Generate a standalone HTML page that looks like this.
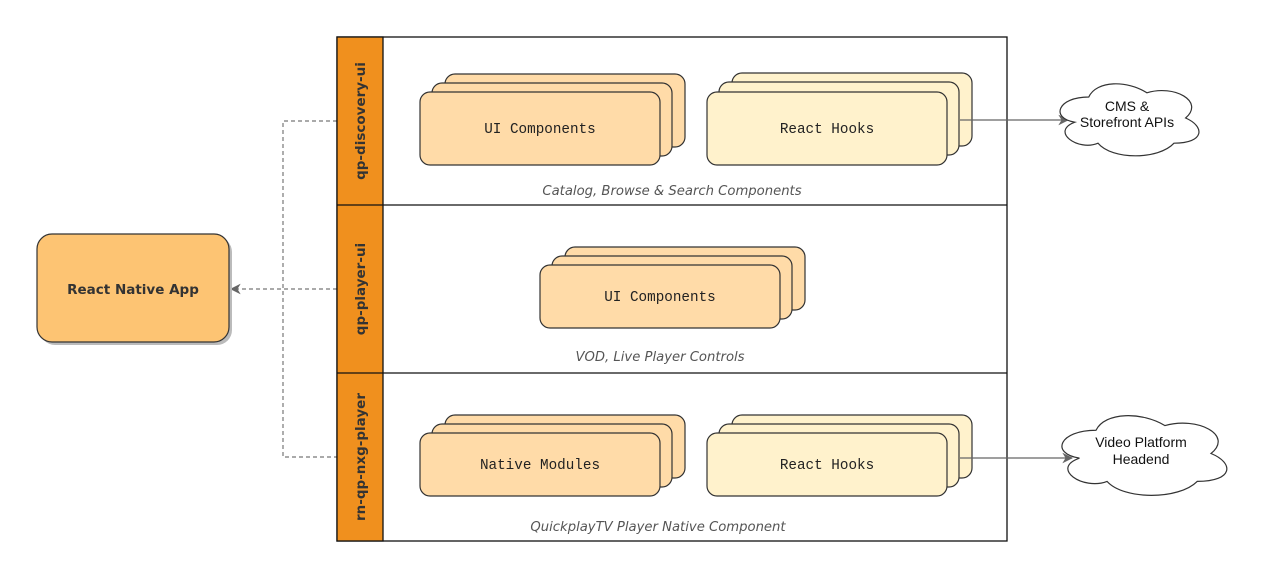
<!DOCTYPE html>
<html><head><meta charset="utf-8"><style>
body{margin:0;background:#fff;}
svg{display:block}
.m{font-family:"Liberation Mono",monospace;font-size:14.3px;fill:#222;}
.i{font-family:"DejaVu Sans","Liberation Sans",sans-serif;font-style:italic;font-size:13.2px;fill:#555;}
.s{font-family:"Liberation Sans",sans-serif;font-size:14px;fill:#111;}
.lb{font-family:"DejaVu Sans","Liberation Sans",sans-serif;font-weight:bold;font-size:13.5px;fill:#333;}
</style></head><body>
<svg width="1277" height="581" viewBox="0 0 1277 581">
<defs>
<marker id="a" viewBox="0 0 10 10" refX="9" refY="5" markerWidth="9" markerHeight="9" orient="auto"><path d="M0,0 L10,5 L0,10 L3,5 Z" fill="#666"/></marker>
<g id="cl"><path d="M0.25,0.25 C0.05,0.25 0,0.5 0.16,0.55 C0,0.66 0.18,0.9 0.31,0.8 C0.4,1 0.7,1 0.8,0.8 C1,0.8 1,0.6 0.875,0.5 C1,0.3 0.8,0.1 0.625,0.2 C0.5,0.05 0.3,0.05 0.25,0.25 Z" fill="#fff" stroke="#333" stroke-width="1.2" vector-effect="non-scaling-stroke"/></g>
</defs>
<g stroke="#777" stroke-width="1.2" stroke-dasharray="4,3" fill="none">
<path d="M337,121 H283 V457 H337"/>
<path d="M337,289 H231" marker-end="url(#a)"/>
</g>
<rect x="40" y="237" width="192" height="108" rx="15" fill="#bbb"/>
<rect x="37" y="234" width="192" height="108" rx="15" fill="#FDC473" stroke="#333" stroke-width="1.2"/>
<text x="133" y="294" text-anchor="middle" class="lb">React Native App</text>
<rect x="337" y="37" width="670" height="504" fill="#fff" stroke="#111" stroke-width="1.3"/>
<rect x="337" y="37" width="46" height="504" fill="#F0901E" stroke="#111" stroke-width="1.3"/>
<line x1="337" y1="205" x2="1007" y2="205" stroke="#111" stroke-width="1.3"/>
<line x1="337" y1="373" x2="1007" y2="373" stroke="#111" stroke-width="1.3"/>
<text transform="translate(365,121) rotate(-90)" text-anchor="middle" class="lb">qp-discovery-ui</text>
<text transform="translate(365,289) rotate(-90)" text-anchor="middle" class="lb">qp-player-ui</text>
<text transform="translate(365,457) rotate(-90)" text-anchor="middle" class="lb">rn-qp-nxg-player</text>
<g stroke="#333" stroke-width="1.2">
<rect x="445" y="74" width="240" height="73" rx="10" fill="#FFDBA8"/>
<rect x="432" y="83" width="240" height="73" rx="10" fill="#FFDBA8"/>
<rect x="420" y="92" width="240" height="73" rx="10" fill="#FFDBA8"/>
<rect x="732" y="73" width="240" height="73" rx="10" fill="#FFF2CC"/>
<rect x="719" y="82" width="240" height="73" rx="10" fill="#FFF2CC"/>
<rect x="707" y="92" width="240" height="73" rx="10" fill="#FFF2CC"/>
<rect x="565" y="247" width="240" height="63" rx="10" fill="#FFDBA8"/>
<rect x="552" y="256" width="240" height="63" rx="10" fill="#FFDBA8"/>
<rect x="540" y="265" width="240" height="63" rx="10" fill="#FFDBA8"/>
<rect x="445" y="415" width="240" height="63" rx="10" fill="#FFDBA8"/>
<rect x="432" y="424" width="240" height="63" rx="10" fill="#FFDBA8"/>
<rect x="420" y="433" width="240" height="63" rx="10" fill="#FFDBA8"/>
<rect x="732" y="415" width="240" height="63" rx="10" fill="#FFF2CC"/>
<rect x="719" y="424" width="240" height="63" rx="10" fill="#FFF2CC"/>
<rect x="707" y="433" width="240" height="63" rx="10" fill="#FFF2CC"/>
</g>
<text x="540" y="133" text-anchor="middle" class="m">UI Components</text>
<text x="827" y="133" text-anchor="middle" class="m">React Hooks</text>
<text x="660" y="301" text-anchor="middle" class="m">UI Components</text>
<text x="540" y="469" text-anchor="middle" class="m">Native Modules</text>
<text x="827" y="469" text-anchor="middle" class="m">React Hooks</text>
<text x="672" y="195" text-anchor="middle" class="i">Catalog, Browse &amp; Search Components</text>
<text x="660" y="361" text-anchor="middle" class="i">VOD, Live Player Controls</text>
<text x="658" y="531" text-anchor="middle" class="i">QuickplayTV Player Native Component</text>
<line x1="960" y1="120" x2="1068" y2="120" stroke="#666" stroke-width="1.2" marker-end="url(#a)"/>
<line x1="960" y1="458" x2="1072" y2="458" stroke="#666" stroke-width="1.2" marker-end="url(#a)"/>
<use href="#cl" transform="translate(1050,76) scale(155,84)"/>
<use href="#cl" transform="translate(1050,407) scale(184,93)"/>
<text x="1127" y="111" text-anchor="middle" class="s">CMS &amp;</text>
<text x="1127" y="127" text-anchor="middle" class="s">Storefront APIs</text>
<text x="1141" y="447" text-anchor="middle" class="s">Video Platform</text>
<text x="1141" y="464" text-anchor="middle" class="s">Headend</text>
</svg>
</body></html>
